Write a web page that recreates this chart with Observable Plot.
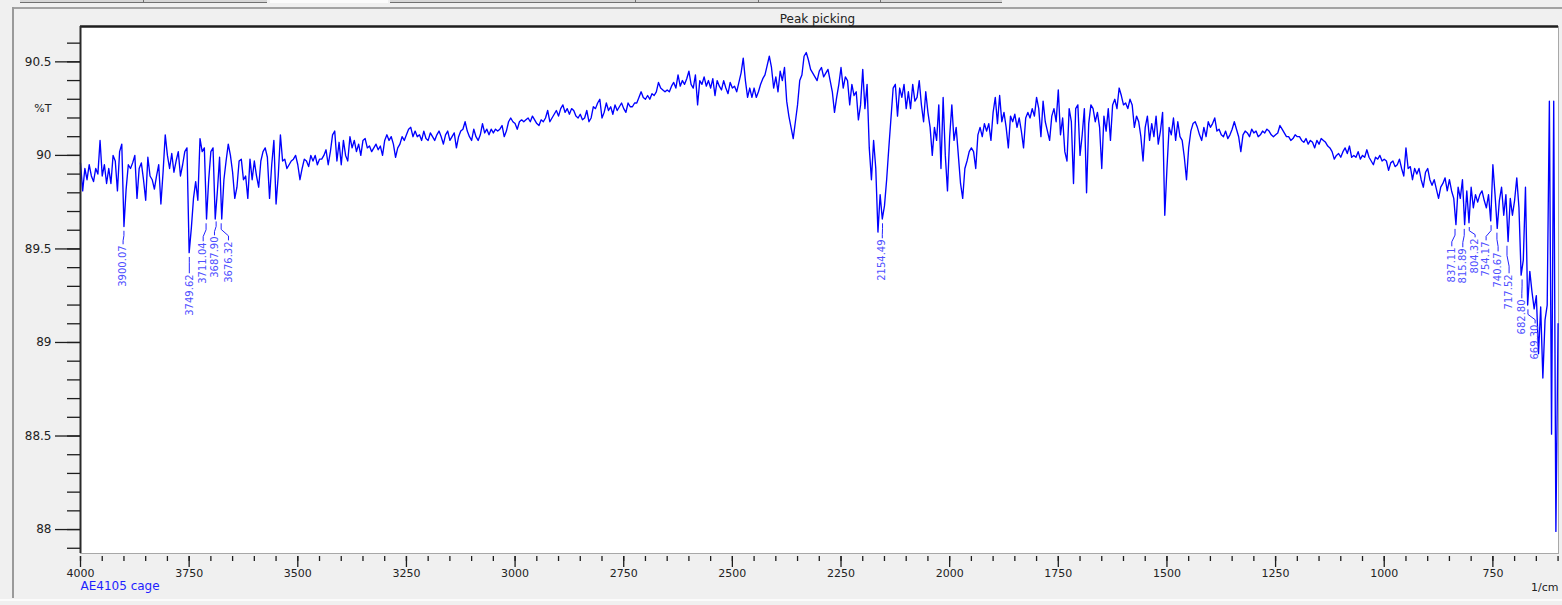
<!DOCTYPE html>
<html><head><meta charset="utf-8">
<script src="https://cdn.jsdelivr.net/npm/d3@7"></script>
<script src="https://cdn.jsdelivr.net/npm/@observablehq/plot@0.6"></script>
<style>
html,body{margin:0;padding:0;background:#f0f0f0;}
body{width:1562px;height:605px;position:relative;overflow:hidden;font-family:"DejaVu Sans",sans-serif;}
.deco{position:absolute;}
#chart{position:absolute;left:0;top:0;}
</style></head><body>
<div class="deco" style="left:20px;top:0;width:247px;height:2px;background:#d6d6d6;border-bottom:1px solid #707070"></div>
<div class="deco" style="left:270px;top:0;width:118px;height:3px;background:#fbfbfb"></div>
<div class="deco" style="left:390px;top:0;width:612px;height:2px;background:#d6d6d6;border-bottom:1px solid #707070"></div>
<div class="deco" style="left:143px;top:0;width:1px;height:3px;background:#707070"></div>
<div class="deco" style="left:635px;top:0;width:1px;height:3px;background:#707070"></div>
<div class="deco" style="left:758px;top:0;width:1px;height:3px;background:#707070"></div>
<div class="deco" style="left:880px;top:0;width:1px;height:3px;background:#707070"></div>
<div class="deco" style="left:12px;top:7px;width:1550px;height:2px;background:#a3a3a3"></div>
<div class="deco" style="left:12px;top:7px;width:2px;height:591px;background:#9a9a9a"></div>
<div class="deco" style="left:0;top:599px;width:1562px;height:2px;background:#fbfbfb"></div>
<div id="chart"></div>
<script>
const wnStart = 4000;
const wnStep = 5;
const transmittance = [
  // 4000 - 3905
  89.96, 89.81, 89.93, 89.87, 89.95, 89.89, 89.86, 89.93, 89.90, 90.08, 89.89, 89.95, 89.85, 89.93, 89.85, 90.00, 89.97, 89.81, 90.02, 90.06,
  // 3900 - 3805
  89.62, 89.82, 89.95, 89.93, 89.96, 90.00, 89.77, 89.93, 89.96, 89.87, 89.76, 89.99, 89.89, 89.87, 89.82, 89.89, 89.95, 89.74, 89.91, 90.11,
  // 3800 - 3705
  90.00, 89.93, 90.01, 89.91, 89.97, 90.02, 89.89, 89.95, 90.02, 90.04, 89.48, 89.61, 89.77, 89.86, 89.76, 90.09, 90.02, 90.04, 89.66, 89.87,
  // 3700 - 3605
  90.02, 90.04, 89.66, 89.81, 89.99, 89.66, 89.87, 89.97, 90.06, 90.00, 89.91, 89.77, 89.83, 89.97, 89.98, 89.87, 89.89, 89.77, 89.98, 89.87,
  // 3600 - 3505
  89.97, 89.89, 89.83, 89.97, 90.02, 90.04, 89.99, 89.77, 89.95, 90.08, 89.74, 89.89, 90.11, 89.97, 89.98, 89.93, 89.95, 89.97, 89.98, 90.00,
  // 3500 - 3405
  89.95, 89.87, 89.93, 89.98, 89.97, 89.94, 90.00, 89.97, 90.00, 89.95, 89.98, 89.98, 90.00, 90.03, 89.95, 90.02, 90.11, 90.13, 89.97, 90.07,
  // 3400 - 3305
  89.95, 90.08, 90.00, 89.97, 90.10, 90.04, 90.08, 90.02, 90.06, 90.00, 90.08, 90.09, 90.04, 90.05, 90.02, 90.04, 90.06, 90.03, 90.05, 90.00,
  // 3300 - 3205
  90.08, 90.11, 90.08, 90.10, 90.06, 89.99, 90.04, 90.06, 90.10, 90.08, 90.11, 90.14, 90.15, 90.10, 90.13, 90.10, 90.11, 90.08, 90.13, 90.09,
  // 3200 - 3105
  90.08, 90.12, 90.10, 90.08, 90.11, 90.13, 90.10, 90.06, 90.11, 90.13, 90.08, 90.10, 90.12, 90.04, 90.10, 90.13, 90.14, 90.18, 90.13, 90.10,
  // 3100 - 3005
  90.08, 90.14, 90.10, 90.08, 90.11, 90.17, 90.12, 90.14, 90.11, 90.14, 90.12, 90.14, 90.13, 90.14, 90.16, 90.10, 90.13, 90.18, 90.20, 90.18,
  // 3000 - 2905
  90.17, 90.14, 90.18, 90.19, 90.18, 90.19, 90.20, 90.18, 90.21, 90.19, 90.17, 90.16, 90.19, 90.18, 90.20, 90.24, 90.18, 90.20, 90.22, 90.24,
  // 2900 - 2805
  90.21, 90.25, 90.27, 90.23, 90.25, 90.22, 90.25, 90.24, 90.21, 90.20, 90.22, 90.19, 90.20, 90.24, 90.18, 90.20, 90.26, 90.25, 90.28, 90.30,
  // 2800 - 2705
  90.20, 90.23, 90.28, 90.24, 90.26, 90.22, 90.27, 90.24, 90.26, 90.28, 90.25, 90.23, 90.28, 90.26, 90.26, 90.28, 90.28, 90.31, 90.34, 90.31,
  // 2700 - 2605
  90.30, 90.32, 90.30, 90.33, 90.32, 90.34, 90.39, 90.36, 90.35, 90.34, 90.35, 90.34, 90.37, 90.39, 90.36, 90.43, 90.37, 90.40, 90.38, 90.41,
  // 2600 - 2505
  90.45, 90.38, 90.36, 90.43, 90.27, 90.40, 90.38, 90.42, 90.37, 90.40, 90.36, 90.41, 90.32, 90.40, 90.37, 90.35, 90.40, 90.36, 90.33, 90.39,
  // 2500 - 2405
  90.36, 90.37, 90.34, 90.39, 90.44, 90.52, 90.40, 90.31, 90.36, 90.31, 90.36, 90.31, 90.34, 90.38, 90.41, 90.43, 90.48, 90.53, 90.47, 90.36,
  // 2400 - 2305
  90.42, 90.34, 90.45, 90.40, 90.47, 90.29, 90.21, 90.15, 90.09, 90.18, 90.27, 90.40, 90.43, 90.53, 90.55, 90.51, 90.46, 90.44, 90.42, 90.40,
  // 2300
  90.45,
  // 2295 - 2200
  90.47, 90.42, 90.44, 90.46, 90.40, 90.34, 90.23, 90.31, 90.38, 90.47, 90.36, 90.42, 90.40, 90.27, 90.38, 90.32, 90.34, 90.19, 90.27, 90.46,
  // 2195 - 2100
  90.25, 90.38, 90.04, 89.87, 90.08, 89.93, 89.59, 89.79, 89.66, 89.73, 89.87, 90.04, 90.20, 90.36, 90.38, 90.21, 90.36, 90.31, 90.38, 90.25,
  // 2095 - 2000
  90.34, 90.25, 90.38, 90.29, 90.31, 90.40, 90.27, 90.18, 90.34, 90.23, 90.15, 90.00, 90.15, 90.08, 90.27, 89.93, 90.31, 90.00, 89.81, 90.10,
  // 1995 - 1900
  90.27, 90.08, 90.15, 90.00, 89.85, 89.77, 89.93, 89.97, 90.02, 90.04, 90.02, 89.93, 90.11, 90.15, 90.10, 90.17, 90.13, 90.17, 90.08, 90.23,
  // 1895 - 1800
  90.31, 90.17, 90.32, 90.18, 90.23, 90.15, 90.04, 90.21, 90.18, 90.22, 90.15, 90.20, 90.13, 90.04, 90.20, 90.23, 90.20, 90.25, 90.21, 90.31,
  // 1795 - 1700
  90.25, 90.10, 90.29, 90.18, 90.13, 90.08, 90.21, 90.25, 90.18, 90.35, 90.11, 90.20, 90.02, 89.97, 90.25, 90.18, 89.85, 90.25, 90.27, 90.00,
  // 1695 - 1600
  90.11, 90.25, 89.80, 90.17, 90.27, 90.25, 90.18, 90.23, 90.15, 89.93, 90.21, 90.13, 90.25, 90.08, 90.27, 90.30, 90.25, 90.36, 90.32, 90.27,
  // 1595 - 1500
  90.28, 90.25, 90.30, 90.27, 90.15, 90.21, 90.18, 90.10, 89.97, 90.15, 90.21, 90.08, 90.17, 90.10, 90.21, 90.06, 90.13, 90.23, 89.68, 89.93,
  // 1495 - 1400
  90.15, 90.11, 90.20, 90.08, 90.18, 90.10, 90.08, 89.99, 89.87, 90.04, 90.13, 90.17, 90.18, 90.15, 90.11, 90.08, 90.15, 90.10, 90.18, 90.15,
  // 1395 - 1300
  90.17, 90.20, 90.13, 90.14, 90.11, 90.10, 90.13, 90.09, 90.11, 90.14, 90.18, 90.14, 90.10, 90.02, 90.11, 90.13, 90.12, 90.10, 90.14, 90.12,
  // 1295 - 1200
  90.13, 90.10, 90.11, 90.13, 90.12, 90.14, 90.13, 90.11, 90.10, 90.11, 90.12, 90.16, 90.14, 90.12, 90.10, 90.10, 90.08, 90.09, 90.11, 90.10,
  // 1195 - 1100
  90.10, 90.08, 90.07, 90.09, 90.06, 90.08, 90.07, 90.04, 90.08, 90.06, 90.09, 90.08, 90.07, 90.05, 90.04, 90.02, 89.98, 90.00, 90.01, 89.99,
  // 1095 - 1000
  90.02, 90.04, 90.01, 90.05, 89.99, 90.00, 89.99, 90.02, 89.98, 90.00, 89.99, 90.03, 89.99, 89.97, 89.95, 89.99, 89.98, 90.00, 89.97, 89.98,
  // 995 - 900
  89.97, 89.92, 89.96, 89.97, 89.94, 89.95, 89.98, 89.93, 89.89, 90.04, 89.93, 89.94, 89.87, 89.93, 89.90, 89.93, 89.87, 89.83, 89.91, 89.93,
  // 895 - 800
  89.87, 89.84, 89.87, 89.82, 89.77, 89.83, 89.85, 89.88, 89.81, 89.87, 89.81, 89.77, 89.63, 89.83, 89.77, 89.87, 89.63, 89.81, 89.64, 89.83,
  // 795 - 700
  89.72, 89.79, 89.75, 89.79, 89.81, 89.76, 89.72, 89.79, 89.65, 89.95, 89.79, 89.61, 89.76, 89.83, 89.68, 89.79, 89.54, 89.77, 89.68, 89.76,
  // 695 - 600
  89.88, 89.72, 89.36, 89.44, 89.83, 89.20, 89.38, 89.27, 89.18, 89.25, 88.94, 89.19, 88.81, 89.12, 89.20, 90.29, 88.51, 90.29, 87.99, 89.10
];

// Picked peaks
const peakWn = [3900.07, 3749.62, 3711.04, 3687.90, 3676.32, 2154.49, 837.11, 815.89, 804.32, 754.17, 740.67, 717.52, 682.80, 669.30];
const peakT  = [89.62, 89.48, 89.66, 89.67, 89.66, 89.66, 89.63, 89.63, 89.64, 89.65, 89.61, 89.54, 89.36, 89.20];
// where each peak label hangs (wavenumber of the label, %T of its top end)
const labelWn = [3902, 3749.6, 3717.7, 3691.7, 3659.5, 2155, 844.5, 819.2, 790.9, 765.6, 738, 712.7, 683.4, 652.8];
const labelT  = [89.519, 89.364, 89.535, 89.567, 89.540, 89.551, 89.508, 89.503, 89.556, 89.540, 89.481, 89.364, 89.230, 89.096];

// Axis ticks
const xMajor = [4000, 3750, 3500, 3250, 3000, 2750, 2500, 2250, 2000, 1750, 1500, 1250, 1000, 750];
const xMinor = d3.range(600, 4001, 50);
const yMajor = [88, 88.5, 89, 89.5, 90, 90.5];
const yMinor = d3.range(879, 907).map(d => d / 10);
const xDomain = [4000, 599];
const yDomain = [87.872, 90.689];

const spectrum = transmittance.map((t, i) => ({wn: wnStart - wnStep * i, t}));
const peaks = peakWn.map((wn, i) => ({wn, t: peakT[i], lx: labelWn[i], lt: labelT[i]}));
const leaders = peaks.flatMap((p, i) => {
  const t0 = p.t - 0.025, t3 = p.lt + 0.008, span = t0 - t3;
  return [
    {id: i, wn: p.wn, t: t0},
    {id: i, wn: p.wn, t: t0 - span * 0.35},
    {id: i, wn: p.lx, t: t0 - span * 0.75},
    {id: i, wn: p.lx, t: t3}
  ];
});

const ink = "#1e1e1e";
const chart = Plot.plot({
  width: 1562,
  height: 605,
  marginLeft: 80,
  marginRight: 4,
  marginTop: 26,
  marginBottom: 52,
  x: {domain: xDomain, label: null},
  y: {domain: yDomain, label: null},
  style: {fontFamily: "DejaVu Sans", background: "transparent", overflow: "visible"},
  marks: [
    Plot.frame({fill: "white", stroke: "#a8a8a8"}),
    Plot.line(spectrum, {x: "wn", y: "t", stroke: "#0000ff", strokeWidth: 1.35}),
    Plot.line(leaders, {x: "wn", y: "t", z: "id", stroke: "#2323ff", strokeWidth: 1}),
    Plot.text(peaks, {x: "lx", y: "lt", text: d => d.wn.toFixed(2), rotate: -90, textAnchor: "end", fontSize: 10, fill: "#5050ff"}),
    Plot.ruleY([yDomain[1]], {stroke: ink, strokeWidth: 2.4}),
    Plot.ruleX([xDomain[0]], {stroke: "#2a2a2a", strokeWidth: 2}),
    Plot.axisX(xMinor, {anchor: "bottom", tickSize: 5, dy: 3, tickFormat: () => "", stroke: ink, strokeWidth: 1.3, label: null}),
    Plot.axisX(xMajor, {anchor: "bottom", tickSize: 11, tickPadding: 2, dy: 3, tickFormat: d => String(d), fontSize: 11, fill: "#222", stroke: ink, strokeWidth: 1.3, label: null}),
    Plot.axisY(yMinor, {anchor: "left", tickSize: 13, tickFormat: () => "", stroke: ink, strokeWidth: 1.3, label: null}),
    Plot.axisY(yMajor, {anchor: "left", tickSize: 25, tickPadding: 4, tickFormat: d => String(d), fontSize: 12, fill: "#222", stroke: ink, strokeWidth: 1.3, label: null}),
    Plot.text(["Peak picking"], {frameAnchor: "top", dy: -12, dx: -2, fontSize: 12, fill: "#222"}),
    Plot.text(["%T"], {frameAnchor: "left", y: () => 90.25, dx: -29, textAnchor: "end", fontSize: 11, fill: "#222"}),
    Plot.text(["AE4105 cage"], {frameAnchor: "bottom-left", dy: 36, textAnchor: "start", fontSize: 12, fill: "#1f1fff"}),
    Plot.text(["1/cm"], {frameAnchor: "bottom-right", dy: 37, textAnchor: "end", fontSize: 11, fill: "#222"})
  ]
});
document.getElementById("chart").append(chart);
</script>
</body></html>
